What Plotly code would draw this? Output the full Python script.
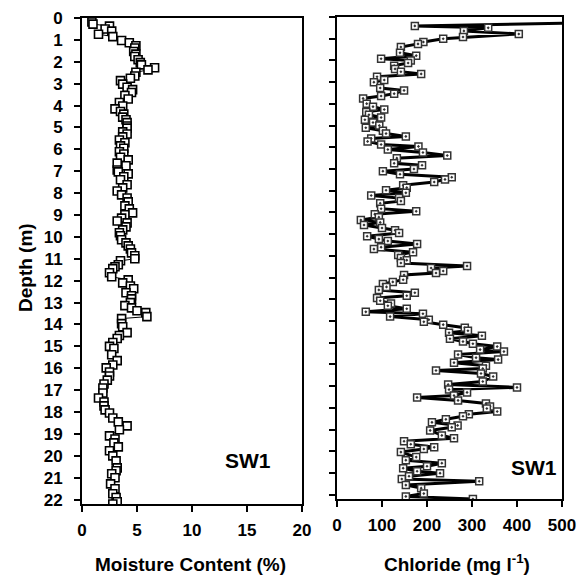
import plotly.graph_objects as go

# Left panel: moisture content (%) vs depth (m)
moist_depth = [0.18, 0.28, 0.37, 0.50, 0.60, 0.74, 0.85, 1.03, 1.13, 1.27, 1.37, 1.53, 1.65, 1.76, 1.91,
               2.04, 2.14, 2.27, 2.37, 2.48, 2.65, 2.75, 2.86, 3.02, 3.16, 3.27, 3.40, 3.54, 3.70, 3.86,
               4.02, 4.15, 4.27, 4.39, 4.53, 4.65, 4.78, 4.93, 5.03, 5.20, 5.30, 5.43, 5.57, 5.70, 5.84,
               5.95, 6.11, 6.21, 6.36, 6.48, 6.63, 6.75, 6.94, 7.03, 7.12, 7.25, 7.39, 7.62, 7.76, 7.90,
               8.08, 8.22, 8.40, 8.58, 8.72, 8.90, 8.99, 9.14, 9.27, 9.36, 9.54, 9.68, 9.81, 9.95, 10.13,
               10.27, 10.41, 10.55, 10.73, 10.86, 11.00, 11.09, 11.27, 11.36, 11.45, 11.64, 11.82, 11.96,
               12.10, 12.24, 12.37, 12.55, 12.69, 12.83, 13.00, 13.14, 13.24, 13.37, 13.46, 13.64, 13.73,
               13.96, 14.10, 14.37, 14.50, 14.64, 14.82, 15.00, 15.10, 15.38, 15.65, 15.85, 15.98, 16.17,
               16.35, 16.54, 16.72, 16.90, 17.13, 17.36, 17.54, 17.72, 17.90, 18.04, 18.27, 18.45, 18.63,
               18.81, 19.09, 19.23, 19.41, 19.59, 19.77, 20.00, 20.23, 20.55, 20.68, 20.82, 21.00, 21.28,
               21.50, 21.73, 21.90, 22.10, 22.20]
moisture = [0.9, 1.0, 2.5, 2.1, 2.7, 1.5, 2.8, 3.6, 4.3, 4.9, 4.8, 4.7, 4.9, 4.8, 5.1,
            5.3, 5.4, 6.6, 6.0, 4.9, 4.8, 4.4, 3.5, 3.7, 4.1, 4.6, 4.5, 3.9, 4.2, 3.4,
            3.7, 3.0, 3.5, 3.8, 3.7, 4.0, 4.1, 4.1, 4.1, 3.7, 4.1, 3.7, 3.4, 3.9, 3.5,
            3.8, 3.4, 3.8, 3.5, 4.2, 3.2, 4.0, 3.2, 3.3, 4.2, 3.8, 3.5, 4.1, 3.7, 3.2,
            3.6, 4.1, 4.2, 3.9, 4.3, 4.6, 3.9, 3.6, 3.2, 4.1, 4.0, 3.7, 3.4, 3.5, 3.6,
            4.0, 4.2, 4.4, 4.5, 4.8, 4.8, 3.5, 3.3, 3.0, 2.8, 2.5, 2.7, 4.2,
            3.7, 4.4, 4.7, 4.0, 4.5, 4.5, 4.4, 3.9, 4.5, 5.0, 5.8, 5.9, 3.6,
            3.6, 3.7, 4.1, 3.4, 3.2, 2.8, 2.5, 2.9, 2.7, 3.2, 2.8, 2.2, 2.5,
            2.5, 2.3, 2.0, 1.9, 1.9, 1.5, 2.0, 2.0, 2.1, 2.5, 2.8, 3.3, 4.1,
            3.4, 2.5, 3.0, 2.9, 3.3, 2.5, 2.8, 3.1, 3.2, 3.1, 2.7, 3.0, 2.6,
            3.0, 2.8, 3.1, 3.2, 2.8]

# Right panel: chloride (mg l-1) vs depth (m)
cl_depth = [0.25, 0.41, 0.50, 0.64, 0.78, 0.92, 1.00, 1.15, 1.24, 1.38, 1.65, 1.78, 1.92, 2.00, 2.12,
            2.24, 2.39, 2.52, 2.62, 2.75, 2.90, 3.00, 3.27, 3.38, 3.53, 3.64, 3.75, 3.99, 4.13, 4.26,
            4.37, 4.50, 4.63, 4.73, 4.86, 5.00, 5.10, 5.24, 5.37, 5.50, 5.60, 5.73, 5.87, 5.96, 6.10,
            6.24, 6.38, 6.50, 6.74, 6.83, 7.00, 7.10, 7.24, 7.38, 7.48, 7.60, 7.75, 7.86, 7.98, 8.10,
            8.22, 8.34, 8.48, 8.58, 8.83, 8.95, 9.08, 9.22, 9.35, 9.46, 9.58, 9.72, 9.82, 9.95, 10.10,
            10.23, 10.32, 10.46, 10.60, 10.69, 10.83, 10.96, 11.10, 11.20, 11.33, 11.47, 11.56, 11.70,
            11.79, 11.88, 12.10, 12.20, 12.30, 12.43, 12.57, 12.70, 12.84, 12.94, 13.07, 13.20, 13.30,
            13.44, 13.58, 13.67, 13.80, 13.94, 14.04, 14.17, 14.31, 14.45, 14.54, 14.68, 14.82, 14.95,
            15.05, 15.18, 15.32, 15.41, 15.55, 15.69, 15.78, 15.92, 16.06, 16.19, 16.28, 16.42, 16.56,
            16.79, 16.93, 17.06, 17.16, 17.29, 17.43, 17.52, 17.66, 17.80, 17.94, 18.03, 18.17, 18.30,
            18.39, 18.53, 18.67, 18.81, 18.90, 19.04, 19.27, 19.40, 19.54, 19.68, 19.82, 19.90, 20.04,
            20.27, 20.41, 20.55, 20.69, 20.78, 20.92, 21.01, 21.15, 21.28, 21.38, 21.56, 21.70, 21.95,
            22.08, 22.20]
chloride = [620, 173, 336, 282, 404, 280, 236, 192, 180, 142, 140, 176, 98, 164, 158,
            127, 129, 142, 187, 89, 105, 82, 96, 149, 127, 98, 58, 66, 80, 105,
            65, 71, 98, 62, 80, 94, 64, 102, 109, 153, 76, 68, 98, 181, 113,
            191, 245, 133, 127, 189, 171, 102, 140, 255, 240, 216, 147, 155, 109, 153,
            76, 138, 142, 96, 98, 176, 84, 93, 53, 96, 60, 100, 129, 138, 67,
            93, 113, 178, 98, 82, 169, 136, 142, 155, 142, 289, 209, 236,
            220, 149, 147, 124, 102, 110, 93, 173, 155, 89, 96, 120, 113,
            155, 64, 191, 118, 204, 193, 236, 284, 291, 249, 322, 251, 280,
            302, 356, 318, 371, 269, 309, 358, 260, 331, 324, 220, 320, 347,
            324, 247, 400, 249, 289, 260, 178, 269, 331, 340, 333, 356, 293,
            280, 242, 211, 268, 255, 207, 233, 260, 149, 164, 216, 193, 142,
            176, 153, 233, 200, 147, 178, 229, 160, 144, 316, 153, 187, 193,
            153, 302]

depth_ticks = list(range(0, 23))
moist_ticks = [0, 5, 10, 15, 20]
cl_ticks = [0, 100, 200, 300, 400, 500]

# The page body adds an 8 px offset; lay out in window pixels and compensate.
OFF = 8
W, H = 587 - OFF, 577 - OFF


def px(x):
    return (x - OFF) / W


def py(y):
    return 1 - (y - OFF) / H


FONT = "Liberation Sans, Arial, sans-serif"

fig = go.Figure()
fig.add_trace(go.Scatter(
    x=moisture, y=moist_depth, mode="lines+markers", xaxis="x", yaxis="y",
    line=dict(color="black", width=1),
    marker=dict(symbol="square", size=8, color="white", line=dict(color="black", width=1.6)),
    showlegend=False))
fig.add_trace(go.Scatter(
    x=chloride, y=cl_depth, mode="lines+markers", xaxis="x2", yaxis="y2",
    line=dict(color="black", width=3),
    marker=dict(symbol="square-dot", size=7, color="white", line=dict(color="#333333", width=1.5)),
    showlegend=False))

tickfont = dict(family=FONT, size=17, color="black", weight="bold")
axis_common = dict(showline=True, linecolor="black", linewidth=2, mirror=True,
                   showgrid=False, zeroline=False, ticks="outside", ticklen=6,
                   tickwidth=1.5, tickcolor="black", tickfont=tickfont, automargin=False)

fig.update_layout(
    width=W, height=H, margin=dict(l=0, r=0, t=0, b=0, autoexpand=False),
    paper_bgcolor="white", plot_bgcolor="white",
    xaxis=dict(domain=[px(82), px(302)], range=[0, 20], tickvals=moist_ticks,
               anchor="y", ticklabelstandoff=4, **axis_common),
    yaxis=dict(domain=[py(504), py(18)], range=[22.2, 0], tickvals=depth_ticks,
               anchor="x", ticklabelstandoff=8, **axis_common),
    xaxis2=dict(domain=[px(337), px(562)], range=[0, 500], tickvals=cl_ticks,
                anchor="y2", ticklabelstandoff=4, **axis_common),
    yaxis2=dict(domain=[py(499), py(17)], range=[22.2, 0], tickvals=depth_ticks,
                anchor="x2", showticklabels=False, **axis_common),
)

titlefont = dict(family=FONT, size=19, color="black", weight="bold")
fig.add_annotation(text="Depth (m)", x=px(25), y=py(268), xref="paper", yref="paper",
                   textangle=-90, showarrow=False, font=titlefont, xanchor="center", yanchor="middle")
fig.add_annotation(text="Moisture Content (%)", x=px(190), y=py(564), xref="paper", yref="paper",
                   showarrow=False, font=titlefont, xanchor="center", yanchor="middle")
fig.add_annotation(text="Chloride (mg l<sup>-1</sup>)", x=px(457), y=py(563), xref="paper", yref="paper",
                   showarrow=False, font=titlefont, xanchor="center", yanchor="middle")
swfont = dict(family=FONT, size=21, color="black", weight="bold")
fig.add_annotation(text="SW1", x=px(248), y=py(460), xref="paper", yref="paper",
                   showarrow=False, font=swfont, xanchor="center", yanchor="middle")
fig.add_annotation(text="SW1", x=px(534), y=py(467), xref="paper", yref="paper",
                   showarrow=False, font=swfont, xanchor="center", yanchor="middle")

fig.write_html("out.html")
